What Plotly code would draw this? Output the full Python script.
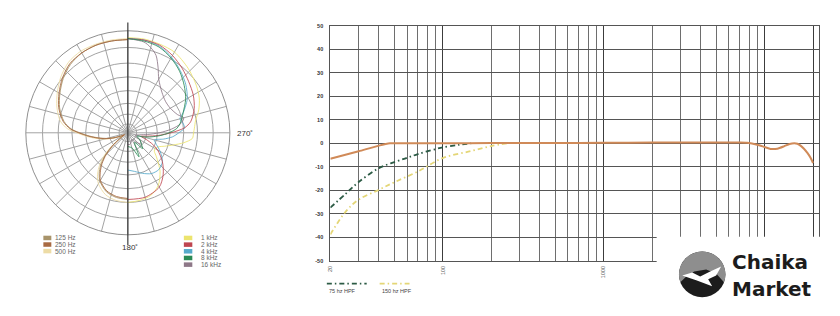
import numpy as np
import plotly.graph_objects as go

W, H = 840, 316

# ---------------- frequency response data ----------------
main_freq = [20, 30, 40, 47, 60, 100, 200, 500, 1000, 2000, 5000, 7000, 7800, 9000, 10000,
             10900, 12000, 13200, 14300, 15300, 16000, 16800, 17500, 18500, 19300, 20000]
main_db = [-6.6, -3.4, -1.0, 0.0, 0.0, 0.0, 0.1, 0.1, 0.2, 0.3, 0.3, 0.3, 0.2, -0.6, -1.6,
           -2.4, -2.3, -1.3, -0.3, 0.0, -0.2, -1.1, -2.2, -4.2, -6.2, -8.4]

hpf75_freq = [20, 25, 30, 40, 50, 60, 70, 90, 100, 125, 150]
hpf75_db = [-27.4, -21.4, -16.5, -10.6, -8.0, -6.2, -4.6, -2.5, -1.7, -0.7, 0.0]

hpf150_freq = [20, 25, 30, 40, 50, 70, 100, 150, 200, 250]
hpf150_db = [-38.8, -29.0, -24.0, -19.8, -16.6, -12.0, -6.3, -3.3, -1.2, 0.0]

y_ticks = [-50, -40, -30, -20, -10, 0, 10, 20, 30, 40, 50]
x_major = [20, 100, 1000, 10000, 20000]
x_major_text = ["20", "100", "1000", "", ""]
x_minor = [30, 40, 50, 60, 70, 80, 90, 200, 300, 400, 500, 600, 700, 800, 900,
           2000, 3000, 4000, 5000, 6000, 7000, 8000, 9000]

hpf_labels = ["75 hz HPF", "150 hz HPF"]
hpf_colors = ["#2c5b45", "#e4d676"]

# ---------------- polar pattern data ----------------
ring_levels = [9, 19, 30, 43, 57, 71, 87, 104]

theta_low = [0, 10, 20, 30, 40, 50, 60, 70, 80, 86, 90, 95, 100, 105, 110, 115, 120, 125,
             130, 135, 140, 145, 150, 160, 170, 180]
r_125 = [95, 95, 95, 94, 91, 86, 80, 74, 66, 58, 49, 39, 30, 22, 14, 7, 4, 9,
         21, 33, 43, 51, 57, 64, 67, 68]
r_250 = [95, 95, 95, 94, 92, 87, 81, 75, 67, 59, 50, 40, 31, 23, 15, 8, 4, 8,
         19, 31, 41, 49, 56, 63, 66, 67]
r_500 = [96, 96, 96, 96, 94, 89, 83, 77, 70, 62, 52, 42, 33, 25, 17, 10, 5, 10,
         23, 36, 46, 54, 60, 67, 70, 71]

# right half: angle measured clockwise from the front (0) to the rear (180)
phi_1k = [0, 10, 20, 30, 43, 55, 64, 72, 80, 86, 90, 95, 100, 105, 110, 115, 120, 125,
          130, 140, 150, 160, 170, 180]
r_1k = [97, 97, 96, 95, 90, 85, 81, 76, 70, 68, 67, 66, 58, 48, 40, 34, 32, 33,
        38, 51, 62, 68, 70, 71]
phi_2k = [0, 10, 20, 30, 40, 50, 60, 70, 80, 85, 90, 95, 100, 105, 110, 115, 120, 130,
          140, 150, 165, 180]
r_2k = [96, 96, 95, 91, 86, 81, 77, 72, 65, 58, 44, 31, 20, 14, 20, 28, 35, 46,
        56, 64, 68, 68]
phi_4k = [0, 10, 20, 30, 40, 50, 60, 65, 70, 75, 80, 85, 90, 95, 100, 105, 110, 120,
          130, 140, 150, 160, 170, 180]
r_4k = [96, 96, 94, 89, 83, 77, 70, 65, 60, 55, 57, 58, 52, 46, 37, 28, 30, 38,
        46, 49, 48, 44, 40, 38]
phi_8k = [0, 10, 20, 30, 40, 50, 60, 70, 75, 80, 85, 90, 95, 100, 105, 110, 120, 130,
          137, 145, 155, 165, 180]
r_8k = [96, 95, 93, 88, 82, 75, 68, 60, 57, 54, 50, 42, 33, 24, 16, 10, 14, 18,
        22, 12, 27, 16, 14]
phi_16k = [0, 10, 15, 20, 25, 30, 40, 50, 60, 70, 75, 80, 85, 90, 95, 100, 110, 120,
           130, 140, 150, 160, 170, 180]
r_16k = [96, 94, 90, 84, 73, 63, 54, 50, 50, 54, 59, 55, 45, 32, 20, 12, 8, 14,
         18, 12, 8, 10, 12, 12]

low_labels = ["125 Hz", "250 Hz", "500 Hz"]
low_colors = ["#a8946a", "#a86a42", "#eddca6"]
high_labels = ["1 kHz", "2 kHz", "4 kHz", "8 kHz", "16 kHz"]
high_colors = ["#ece46e", "#bf4650", "#56aacb", "#2a8a55", "#8e7888"]


def px(x):
    return x / W


def py(y):
    return 1 - y / H


fig = go.Figure()

# ---- polar traces ----
low_series = [(theta_low, r_500, low_colors[2]), (theta_low, r_125, low_colors[0]),
              (theta_low, r_250, low_colors[1])]
for th, rr, col in low_series:
    fig.add_trace(go.Scatterpolar(theta=th, r=rr, mode="lines", subplot="polar",
                                  line=dict(color=col, width=0.9, shape="spline", smoothing=0.8),
                                  showlegend=False, hoverinfo="skip"))

high_series = [(phi_1k, r_1k, high_colors[0]), (phi_4k, r_4k, high_colors[2]),
               (phi_2k, r_2k, high_colors[1]), (phi_16k, r_16k, high_colors[4]),
               (phi_8k, r_8k, high_colors[3])]
for ph, rr, col in high_series:
    fig.add_trace(go.Scatterpolar(theta=[360 - p for p in ph], r=rr, mode="lines", subplot="polar",
                                  line=dict(color=col, width=0.85, shape="spline", smoothing=0.8),
                                  showlegend=False, hoverinfo="skip"))

# ---- frequency response traces ----
fig.add_trace(go.Scatter(x=hpf150_freq, y=hpf150_db, mode="lines",
                         line=dict(color=hpf_colors[1], width=1.8, dash="5px,3px,1.5px,3px", shape="spline"),
                         showlegend=False, hoverinfo="skip"))
fig.add_trace(go.Scatter(x=hpf75_freq, y=hpf75_db, mode="lines",
                         line=dict(color=hpf_colors[0], width=1.8, dash="5px,3px,1.5px,3px", shape="spline"),
                         showlegend=False, hoverinfo="skip"))
fig.add_trace(go.Scatter(x=main_freq, y=main_db, mode="lines",
                         line=dict(color="#d08a58", width=2, shape="spline", smoothing=0.6),
                         showlegend=False, hoverinfo="skip"))

cx, cy, R = 125.3, 132.3, 104
grid_c = "#a3a3a3"

fig.update_layout(
    width=W, height=H, margin=dict(l=0, r=0, t=0, b=0),
    paper_bgcolor="white", plot_bgcolor="white",
    polar=dict(
        domain=dict(x=[px(cx - R), px(cx + R)], y=[py(cy + R), py(cy - R)]),
        bgcolor="white",
        angularaxis=dict(rotation=90, direction="counterclockwise", dtick=15,
                         showticklabels=False, ticks="", gridcolor=grid_c, gridwidth=0.8,
                         showline=True, linecolor="#909090", linewidth=1),
        radialaxis=dict(range=[0, R], tickvals=ring_levels, showticklabels=False, ticks="",
                        gridcolor=grid_c, gridwidth=0.8, showline=False),
    ),
    xaxis=dict(type="log", range=[np.log10(20), np.log10(21900)],
               domain=[px(328.5), px(819.3)],
               tickvals=x_major, ticktext=x_major_text, tickangle=-90,
               tickfont=dict(family="Liberation Sans", size=5.5, color="#555"),
               ticks="", showgrid=True, gridcolor="#3c3c3c", gridwidth=1.2,
               minor=dict(tickvals=x_minor, showgrid=True, gridcolor="#6e6e6e", gridwidth=1, ticks=""),
               showline=True, mirror=True, linecolor="#555", linewidth=1,
               zeroline=False, ticklabelstandoff=2, fixedrange=True),
    yaxis=dict(range=[-50, 50], domain=[py(262.7), py(23.3)],
               tickvals=y_ticks, ticktext=[str(v) for v in y_ticks],
               tickfont=dict(family="Liberation Sans", size=5.5, color="#333", weight="bold"),
               ticks="", showgrid=True, gridcolor="#555", gridwidth=1,
               showline=True, mirror=True, linecolor="#555", linewidth=1,
               zeroline=False, ticklabelstandoff=5, fixedrange=True),
)

shapes = []
annotations = []

# polar vertical axis line
shapes.append(dict(type="line", xref="paper", yref="paper", x0=px(cx), x1=px(cx),
                   y0=py(20), y1=py(246.7), line=dict(color="#2a2a2a", width=1.1), layer="above"))
annotations.append(dict(x=px(233), y=py(133.5), xref="paper", yref="paper", text="270˚",
                        showarrow=False, xanchor="left", yanchor="middle",
                        font=dict(family="Liberation Sans", size=8, color="#333")))
annotations.append(dict(x=px(127), y=py(249.5), xref="paper", yref="paper", text="180˚",
                        showarrow=False, xanchor="center", yanchor="middle",
                        font=dict(family="Liberation Sans", size=8, color="#333")))

# polar legends
for i, (lab, col) in enumerate(zip(low_labels, low_colors)):
    yy = 239.5 + i * 6.7
    shapes.append(dict(type="rect", xref="paper", yref="paper", x0=px(40.5), x1=px(48.5),
                       y0=py(yy + 2.3), y1=py(yy - 2.3), fillcolor=col, line=dict(width=0)))
    annotations.append(dict(x=px(50.5), y=py(yy), xref="paper", yref="paper", text=lab,
                            showarrow=False, xanchor="left", yanchor="middle",
                            font=dict(family="Liberation Sans", size=6.5, color="#666")))
for i, (lab, col) in enumerate(zip(high_labels, high_colors)):
    yy = 239.5 + i * 6.8
    shapes.append(dict(type="rect", xref="paper", yref="paper", x0=px(181.5), x1=px(190),
                       y0=py(yy + 2.3), y1=py(yy - 2.3), fillcolor=col, line=dict(width=0)))
    annotations.append(dict(x=px(196.5), y=py(yy), xref="paper", yref="paper", text=lab,
                            showarrow=False, xanchor="left", yanchor="middle",
                            font=dict(family="Liberation Sans", size=6.5, color="#666")))

# HPF legend
for lab, col, x0, x1 in zip(hpf_labels, hpf_colors, [325, 378], [365, 408]):
    shapes.append(dict(type="line", xref="paper", yref="paper", x0=px(x0), x1=px(x1),
                       y0=py(286), y1=py(286), line=dict(color=col, width=1.8, dash="5px,3px,1.5px,3px")))
    annotations.append(dict(x=px(x0), y=py(293.3), xref="paper", yref="paper", text=lab,
                            showarrow=False, xanchor="left", yanchor="middle",
                            font=dict(family="Liberation Sans", size=5.5, color="#444")))

# white box behind the logo
shapes.append(dict(type="rect", xref="paper", yref="paper", x0=px(656), x1=1,
                   y0=0, y1=py(238.3), fillcolor="white", line=dict(width=0), layer="above"))

# logo
lx, ly, lr = 701.7, 276.7, 23.3
shapes.append(dict(type="circle", xref="paper", yref="paper", x0=px(lx - lr), x1=px(lx + lr),
                   y0=py(ly + lr), y1=py(ly - lr), fillcolor="#1c1c1c", line=dict(width=0), layer="above"))


def poly(points):
    return "M " + " L ".join(f"{px(x):.5f},{py(y):.5f}" for x, y in points) + " Z"


# gray upper cap
ang = np.linspace(np.deg2rad(200), np.deg2rad(-20), 40)
cap = [(lx + lr * np.cos(a), ly - lr * np.sin(a)) for a in ang]
cap += [(lx + 14, ly - 1), (lx + 4, ly - 5), (lx - 8, ly - 3), (lx - 16, ly + 2)]
shapes.append(dict(type="path", xref="paper", yref="paper", path=poly(cap),
                   fillcolor="#8e8e8e", line=dict(width=0), layer="above"))
# white bird
bird = [(lx - 20, ly + 1), (lx - 10, ly - 2), (lx - 2, ly + 2), (lx + 8, ly - 3), (lx + 19, ly - 8),
        (lx + 14, ly + 1), (lx + 6, ly + 5), (lx + 10, ly + 12), (lx + 2, ly + 9),
        (lx - 6, ly + 6), (lx - 12, ly + 4)]
shapes.append(dict(type="path", xref="paper", yref="paper", path=poly(bird),
                   fillcolor="white", line=dict(width=0), layer="above"))

annotations.append(dict(x=px(730.5), y=py(277.3), xref="paper", yref="paper", text="Chaika",
                        showarrow=False, xanchor="left", yanchor="bottom", borderpad=0,
                        font=dict(family="DejaVu Sans", size=20, color="#1c1c1c", weight="bold")))
annotations.append(dict(x=px(730.5), y=py(277.8), xref="paper", yref="paper", text="Market",
                        showarrow=False, xanchor="left", yanchor="top", borderpad=0,
                        font=dict(family="DejaVu Sans", size=20, color="#1c1c1c", weight="bold")))

fig.update_layout(shapes=shapes, annotations=annotations)

fig.write_html("out.html")
